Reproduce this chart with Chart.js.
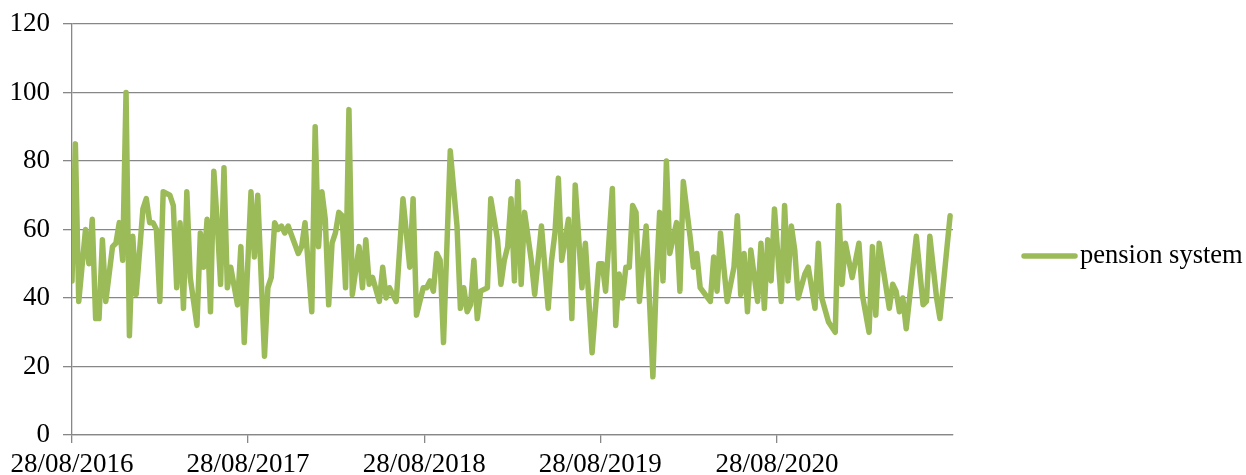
<!DOCTYPE html>
<html>
<head>
<meta charset="utf-8">
<script src="https://cdn.jsdelivr.net/npm/chart.js@4.4.1/dist/chart.umd.min.js"></script>
<style>
  html, body { margin: 0; padding: 0; background: #ffffff; }
  #wrap { width: 1246px; height: 475px; position: relative; }
</style>
</head>
<body>
<div id="wrap"><canvas id="c"></canvas></div>
<script>
// ---- data (week number since 28/08/2016, value) ----
const seriesName = "pension system";
const weekNo = [0,1,2,4,5,6,7,8,9,10,12,13,14,15,16,17,18,19,21,22,23,24,25,26,27,29,30,31,32,33,34,35,37,38,39,40,41,42,43,44,45,46,47,49,50,51,53,54,55,57,58,59,60,61,62,63,64,67,68,69,71,72,73,74,75,76,77,78,79,80,81,82,83,85,86,87,88,89,91,92,93,94,96,98,100,101,102,104,105,106,107,108,109,110,112,114,115,116,117,118,119,120,121,123,124,126,127,128,129,130,131,132,133,134,136,137,139,141,142,143,144,145,147,148,149,151,152,154,156,157,158,160,161,162,163,164,165,166,167,168,170,172,173,174,175,176,177,179,180,181,183,184,185,186,189,190,191,192,194,196,197,198,199,200,201,203,204,205,206,207,208,210,211,212,213,214,215,217,218,220,221,222,224,226,227,228,229,231,233,234,236,237,238,239,242,243,244,245,246,247,248,250,252,253,254,256,257,260];
const values = [45,85,39,60,50,63,34,34,57,39,55,56,62,51,100,29,58,41,66,69,62,62,60,39,71,70,67,43,62,37,71,46,32,59,49,63,36,77,62,44,78,43,49,38,55,27,71,52,70,23,43,46,62,60,61,59,61,53,55,62,36,90,55,71,63,38,56,59,65,64,43,95,41,55,43,57,44,46,39,49,40,43,39,69,49,69,35,43,43,45,42,53,51,27,83,61,37,43,36,38,51,34,42,43,69,57,44,51,55,69,45,74,44,65,51,41,61,37,51,59,75,51,63,34,73,43,56,24,50,50,42,72,32,47,40,49,49,67,65,39,61,17,45,65,45,80,53,62,42,74,58,49,53,43,39,52,42,59,39,49,64,41,53,36,54,39,56,37,57,45,66,39,67,45,61,54,40,47,49,37,56,40,33,30,67,44,56,46,56,41,30,55,35,56,37,44,42,36,40,31,40,58,38,39,58,40,34,64];
const tickDays = [0,365,730,1095,1461];
const tickLabels = ["28/08/2016","28/08/2017","28/08/2018","28/08/2019","28/08/2020"];
const yTicks = [0,20,40,60,80,100,120];

const GREEN = "#9BBB59";
const GRID = "#878787";
const FONT = "'Liberation Serif', 'Times New Roman', serif";
const FS = 27;

const points = weekNo.map((w, i) => ({ x: w * 7, y: values[i] }));

const legendPlugin = {
  id: 'customLegend',
  afterDraw(chart) {
    const ctx = chart.ctx;
    const y = 256;
    ctx.save();
    ctx.strokeStyle = GREEN;
    ctx.lineWidth = 5.5;
    ctx.lineCap = 'round';
    ctx.beginPath();
    ctx.moveTo(1024, y);
    ctx.lineTo(1075, y);
    ctx.stroke();
    ctx.fillStyle = '#000';
    ctx.font = "26.5px " + FONT;
    ctx.textBaseline = 'middle';
    ctx.textAlign = 'left';
    ctx.fillText(chart.data.datasets[0].label, 1080, y);
    ctx.restore();
  }
};

new Chart(document.getElementById('c'), {
  type: 'line',
  data: {
    datasets: [{
      label: seriesName,
      data: points,
      borderColor: GREEN,
      backgroundColor: GREEN,
      borderWidth: 5.5,
      pointRadius: 0,
      tension: 0,
      borderJoinStyle: 'round',
      borderCapStyle: 'round'
    }]
  },
  options: {
    responsive: true,
    maintainAspectRatio: false,
    animation: false,
    events: [],
    layout: { padding: { left: 0, right: 293, top: 24, bottom: 0 } },
    plugins: { legend: { display: false }, tooltip: { enabled: false } },
    scales: {
      x: {
        type: 'linear',
        min: 0,
        max: 1826,
        afterBuildTicks(scale) { scale.ticks = tickDays.map(v => ({ value: v })); },
        afterFit(scale) { scale.height = 40; scale.paddingLeft = 0; scale.paddingRight = 0; },
        ticks: {
          autoSkip: false,
          maxRotation: 0,
          color: '#000',
          padding: 8,
          font: { family: FONT, size: FS, lineHeight: 1.0 },
          callback(v) { const i = tickDays.indexOf(v); return i >= 0 ? tickLabels[i] : ''; }
        },
        grid: { drawOnChartArea: false, drawTicks: true, tickLength: 8, color: GRID, lineWidth: 1.3 },
        border: { display: true, color: GRID, width: 1.3 }
      },
      y: {
        min: 0,
        max: 120,
        afterBuildTicks(scale) { scale.ticks = yTicks.map(v => ({ value: v })); },
        afterFit(scale) { scale.width = 72; scale.paddingTop = 0; scale.paddingBottom = 0; },
        ticks: {
          color: '#000',
          padding: 13,
          font: { family: FONT, size: FS }
        },
        grid: { color: GRID, lineWidth: 1.3, tickLength: 9 },
        border: { display: true, color: GRID, width: 1.3 }
      }
    }
  },
  plugins: [legendPlugin]
});
</script>
</body>
</html>
